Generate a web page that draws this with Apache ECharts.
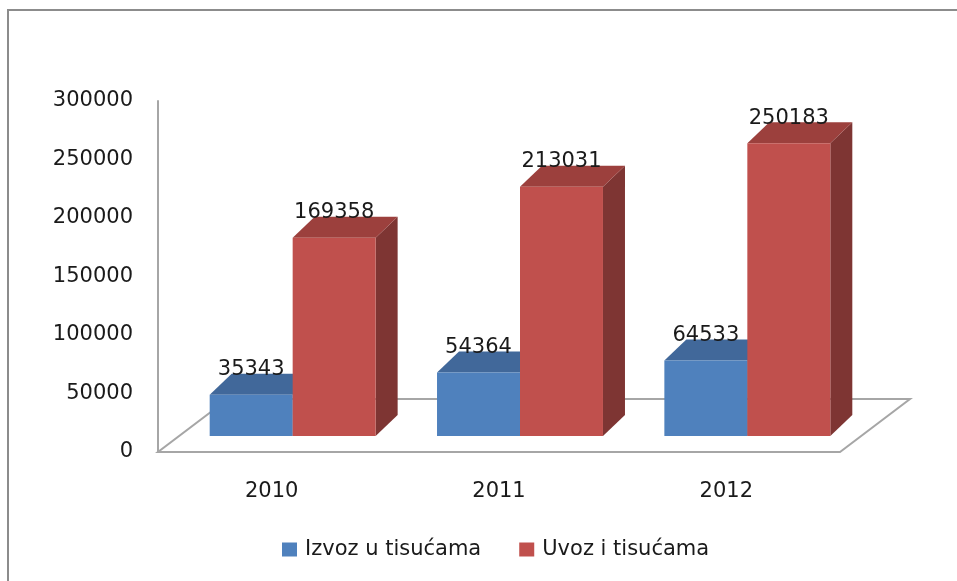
<!DOCTYPE html>
<html>
<head>
    <meta charset="utf-8">
    <title>Izvoz i uvoz</title>
    <script src="https://cdn.jsdelivr.net/npm/echarts@6/dist/echarts.min.js"></script>
    <style type="text/css">
    html, body { margin: 0; padding: 0; background: #fff; }
    #main { width: 957px; height: 581px; }
    </style>
</head>
<body>
    <div id="main"></div>
    <script>
        var years = ['2010', '2011', '2012'];
        var izvoz = [35343, 54364, 64533];
        var uvoz = [169358, 213031, 250183];
        var seriesNames = ['Izvoz u tisućama', 'Uvoz i tisućama'];
        var yTicks = [0, 300000, 50000]; // min, max, interval

        var FONT = 'DejaVu Sans';
        // fake 3d offsets (px)
        var SHIFT = [21, -16];   // bars sit back from the front edge of the floor
        var DEPTH = [22, -21];   // depth of a box
        var FLOOR = [70, -53];   // depth of the floor

        var chart = echarts.init(document.getElementById('main'));

        function boxItem(colors, side) {
            return function (params, api) {
                var v = api.value(1);
                var top = api.coord([api.value(0), v]);
                var base = api.coord([api.value(0), 0]);
                var bw = api.size([1, 0])[0] * 0.365;
                var x0 = top[0] + SHIFT[0] + (side === 0 ? -bw : 0);
                var x1 = x0 + bw;
                var yT = top[1] + SHIFT[1];
                var yB = base[1] + SHIFT[1];
                var dx = DEPTH[0], dy = DEPTH[1];
                return {
                    type: 'group',
                    children: [{
                        type: 'polygon',
                        shape: { points: [[x1, yT], [x1 + dx, yT + dy], [x1 + dx, yB + dy], [x1, yB]] },
                        style: { fill: colors[2] }
                    }, {
                        type: 'polygon',
                        shape: { points: [[x0, yT], [x0 + dx, yT + dy], [x1 + dx, yT + dy], [x1, yT]] },
                        style: { fill: colors[1] }
                    }, {
                        type: 'rect',
                        shape: { x: x0, y: yT, width: bw, height: yB - yT },
                        style: { fill: colors[0] }
                    }, {
                        type: 'text',
                        x: (x0 + x1) / 2,
                        y: yT - 25,
                        style: {
                            text: String(v),
                            align: 'center',
                            verticalAlign: 'middle',
                            font: '21px "' + FONT + '"',
                            fill: '#1a1a1a'
                        }
                    }]
                };
            };
        }

        function floorItem(params, api) {
            var cs = params.coordSys;
            var l = cs.x, r = cs.x + cs.width, b = cs.y + cs.height;
            return {
                type: 'polygon',
                shape: { points: [[l, b], [r, b], [r + FLOOR[0], b + FLOOR[1]], [l + FLOOR[0], b + FLOOR[1]]] },
                style: { fill: '#fff', stroke: '#a6a6a6', lineWidth: 2 }
            };
        }

        var option = {
            backgroundColor: '#fff',
            animation: false,
            graphic: [{
                type: 'rect',
                shape: { x: 8, y: 10, width: 1200, height: 1000 },
                style: { fill: 'none', stroke: '#8c8c8c', lineWidth: 2 },
                z: 100
            }],
            grid: { left: 158, right: 117, top: 101, bottom: 129 },
            legend: {
                data: seriesNames,
                left: 282,
                top: 539,
                padding: 0,
                itemWidth: 15,
                itemHeight: 14,
                itemGap: 38,
                icon: 'rect',
                textStyle: { fontFamily: FONT, fontSize: 21, color: '#1a1a1a', padding: [0, 0, 0, 3] }
            },
            xAxis: {
                type: 'category',
                data: years,
                axisLine: { show: false },
                axisTick: { show: false },
                axisLabel: { fontFamily: FONT, fontSize: 21, color: '#1a1a1a', margin: 29 }
            },
            yAxis: {
                type: 'value',
                min: yTicks[0],
                max: yTicks[1],
                interval: yTicks[2],
                axisLine: { show: true, lineStyle: { color: '#a6a6a6', width: 2 } },
                axisTick: { show: false },
                splitLine: { show: false },
                axisLabel: {
                    fontFamily: FONT, fontSize: 21, color: '#1a1a1a', margin: 25,
                    padding: [8, 0, 0, 0],
                    formatter: function (v) { return String(v); }
                }
            },
            series: [{
                name: 'floor',
                type: 'custom',
                renderItem: floorItem,
                data: [[0, 0]],
                z: 1,
                silent: true
            }, {
                name: seriesNames[0],
                type: 'custom',
                renderItem: boxItem(['#4f81bd', '#41689a', '#385d8a'], 0),
                itemStyle: { color: '#4f81bd' },
                data: years.map(function (y, i) { return [i, izvoz[i]]; }),
                z: 2
            }, {
                name: seriesNames[1],
                type: 'custom',
                renderItem: boxItem(['#c0504d', '#9c403d', '#7e3533'], 1),
                itemStyle: { color: '#c0504d' },
                data: years.map(function (y, i) { return [i, uvoz[i]]; }),
                z: 3
            }]
        };
        chart.setOption(option);
    </script>
</body>
</html>
